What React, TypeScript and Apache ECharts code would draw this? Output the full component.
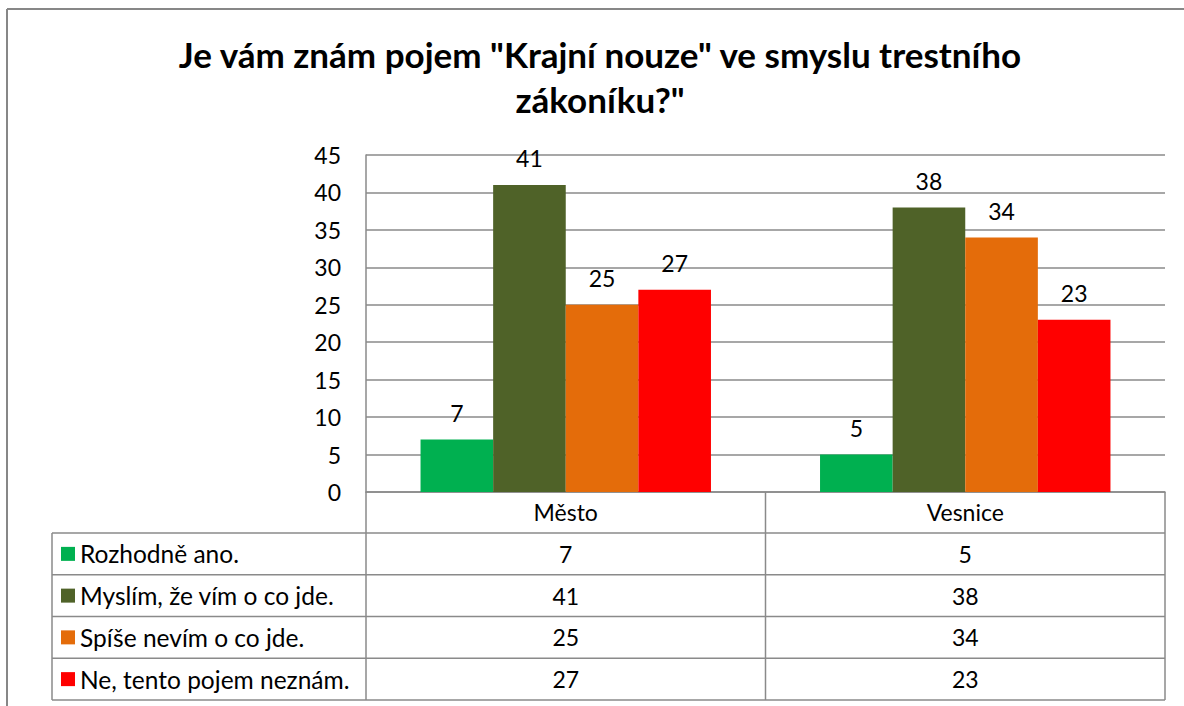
import React, { useEffect, useRef } from "react";
import * as echarts from "echarts";

const titleText = 'Je vám znám pojem "Krajní nouze" ve smyslu trestního\nzákoníku?"';
const categories = ["Město", "Vesnice"];
const seriesNames = [
  "Rozhodně ano.",
  "Myslím, že vím o co jde.",
  "Spíše nevím o co jde.",
  "Ne, tento pojem neznám.",
];
const rozhodneAno = [7, 5];
const myslimZeVim = [41, 38];
const spiseNevim = [25, 34];
const neNeznam = [27, 23];
const yMin = 0;
const yMax = 45;
const yStep = 5;

const seriesValues = [rozhodneAno, myslimZeVim, spiseNevim, neNeznam];
const colors = ["#00B050", "#4F6228", "#E46C0A", "#FF0000"];

const FONT = "Lato, 'Open Sans', sans-serif";
const GRAY = "#8a8a8a";

// layout
const plotLeft = 366;
const plotRight = 1165;
const plotTop = 155;
const plotBottom = 492;
const headerBottom = 533;
const rowH = 41.75;
const tableLeft = 52;

export default function App() {
  const ref = useRef<HTMLDivElement>(null);
  useEffect(() => {
    if (!ref.current) return;
    const chart = echarts.init(ref.current, undefined, { renderer: "svg" });
    const colW = (plotRight - plotLeft) / categories.length;
    const graphics: any[] = [];
    // outer border (only top and left edges are inside the picture)
    const borderStyle = { stroke: "#878787", lineWidth: 2 };
    graphics.push({ type: "line", shape: { x1: 7, y1: 9, x2: 1184, y2: 9 }, style: borderStyle, silent: true });
    graphics.push({ type: "line", shape: { x1: 7, y1: 9, x2: 7, y2: 706 }, style: borderStyle, silent: true });
    const lineStyle = { stroke: GRAY, lineWidth: 1.5 };
    const tableBottom = headerBottom + rowH * seriesNames.length;
    // vertical lines
    graphics.push({ type: "line", shape: { x1: plotLeft, y1: plotBottom, x2: plotLeft, y2: tableBottom }, style: lineStyle, silent: true });
    for (let c = 1; c <= categories.length; c++) {
      const x = plotLeft + colW * c;
      graphics.push({ type: "line", shape: { x1: x, y1: plotBottom, x2: x, y2: tableBottom }, style: lineStyle, silent: true });
    }
    graphics.push({ type: "line", shape: { x1: tableLeft, y1: headerBottom, x2: tableLeft, y2: tableBottom }, style: lineStyle, silent: true });
    // horizontal lines
    for (let r = 0; r <= seriesNames.length; r++) {
      const y = headerBottom + rowH * r;
      graphics.push({ type: "line", shape: { x1: tableLeft, y1: y, x2: plotRight, y2: y }, style: lineStyle, silent: true });
    }
    // values
    seriesValues.forEach((vals, r) => {
      vals.forEach((v, c) => {
        graphics.push({
          type: "text",
          x: plotLeft + colW * (c + 0.5),
          y: headerBottom + rowH * (r + 0.5),
          style: {
            text: String(v),
            font: `23px ${FONT}`,
            fill: "#000",
            align: "center",
            verticalAlign: "middle",
          },
          silent: true,
        });
      });
    });

    chart.setOption({
      animation: false,
      backgroundColor: "#fff",
      title: {
        text: titleText,
        left: 600,
        top: 31,
        padding: 0,
        textAlign: "center",
        textStyle: {
          fontFamily: FONT,
          fontWeight: "bold",
          fontSize: 35,
          lineHeight: 45,
          color: "#000",
        },
      },
      legend: {
        orient: "vertical",
        left: 61,
        top: headerBottom,
        padding: 0,
        itemGap: 0,
        itemWidth: 14,
        itemHeight: 14,
        icon: "rect",
        selectedMode: false,
        data: seriesNames,
        textStyle: {
          fontFamily: FONT,
          fontSize: 24.5,
          lineHeight: rowH,
          color: "#000",
          padding: [0, 0, 0, 0],
        },
      },
      grid: {
        left: plotLeft,
        top: plotTop,
        width: plotRight - plotLeft,
        height: plotBottom - plotTop,
        containLabel: false,
      },
      xAxis: {
        type: "category",
        data: categories,
        axisLine: { show: true, lineStyle: { color: GRAY, width: 1.5 } },
        axisTick: { show: false },
        axisLabel: {
          margin: 8,
          fontFamily: FONT,
          fontSize: 23,
          color: "#000",
        },
      },
      yAxis: {
        type: "value",
        min: yMin,
        max: yMax,
        interval: yStep,
        axisLine: { show: true, lineStyle: { color: GRAY, width: 1.5 } },
        axisTick: { show: false },
        splitLine: { show: true, lineStyle: { color: GRAY, width: 1.5 } },
        axisLabel: {
          margin: 25,
          fontFamily: FONT,
          fontSize: 23,
          color: "#000",
        },
      },
      series: seriesNames.map((name, i) => ({
        name,
        type: "bar",
        data: seriesValues[i],
        barGap: "0%",
        barCategoryGap: "27.3%",
        itemStyle: { color: colors[i] },
        label: {
          show: true,
          position: "top",
          distance: 15,
          fontFamily: FONT,
          fontSize: 23,
          color: "#000",
        },
      })),
      graphic: graphics,
    });
    return () => chart.dispose();
  }, []);
  return (
    <div
      ref={ref}
      style={{ position: "fixed", left: 0, top: 0, width: 1184, height: 706 }}
    />
  );
}
